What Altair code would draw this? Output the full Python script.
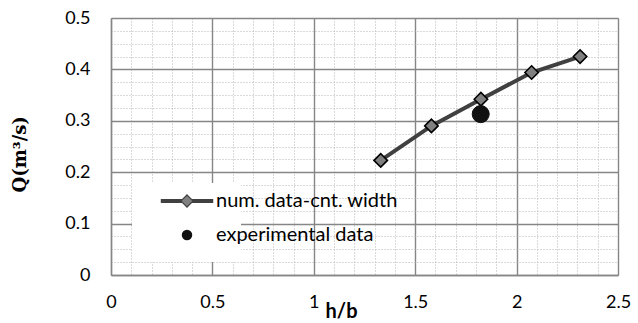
import altair as alt
import pandas as pd

num_label = "num. data-cnt. width"
exp_label = "experimental data"

x_num = [1.33, 1.58, 1.824, 2.074, 2.313]
y_num = [0.223, 0.290, 0.342, 0.394, 0.425]
x_exp = [1.823]
y_exp = [0.313]

major_x = [0, 0.5, 1, 1.5, 2, 2.5]
major_y = [0, 0.1, 0.2, 0.3, 0.4, 0.5]
minor_x = [round(i * 0.1, 2) for i in range(26)]
minor_y = [round(i * 0.025, 3) for i in range(21)]

df_num = pd.DataFrame({"x": x_num, "y": y_num, "series": num_label})
df_exp = pd.DataFrame({"x": x_exp, "y": y_exp, "series": exp_label})

GRID_MAJOR = "#868686"
GRID_MINOR = "#b4b4b4"
FONT = "Lato"
BLANK = "\u2003" * 9
LINE_SYMBOL = "M-5,0H5M0,-0.78L0.78,0L0,0.78L-0.78,0Z"

xscale = alt.Scale(domain=[0, 2.5], nice=False, zero=False)
yscale = alt.Scale(domain=[0, 0.5], nice=False, zero=False)

minor_x_axis = alt.Axis(orient="bottom", values=minor_x, grid=True, gridDash=[1, 2],
                        gridColor=GRID_MINOR, gridWidth=1, labels=False, ticks=False,
                        domain=False, title=None)
minor_y_axis = alt.Axis(orient="left", values=minor_y, grid=True, gridDash=[1, 2],
                        gridColor=GRID_MINOR, gridWidth=1, labels=False, ticks=False,
                        domain=False, title=None)

major_x_axis = alt.Axis(orient="bottom", values=major_x, format="~g", grid=True,
                        gridColor=GRID_MAJOR, gridWidth=1.4, domainColor=GRID_MAJOR,
                        domainWidth=1.4, ticks=False, labelFont=FONT, labelFontSize=18,
                        labelColor="#000000", labelPadding=18, labelFlush=False,
                        title="h/b", titleFont=FONT, titleFontSize=20,
                        titleFontWeight="bold", titleColor="#000000", titleX=230,
                        titleY=26, titleAlign="center", titleBaseline="top")
major_y_axis = alt.Axis(orient="left", values=major_y, format="~g", grid=True,
                        gridColor=GRID_MAJOR, gridWidth=1.4, domainColor=GRID_MAJOR,
                        domainWidth=1.4, ticks=False, labelFont=FONT, labelFontSize=18,
                        labelColor="#000000", labelPadding=21, labelFlush=False,
                        title="Q(m³/s)", titleFont="DejaVu Serif", titleFontSize=18,
                        titleFontWeight="bold", titleColor="#000000", titleX=-91,
                        titleY=174, titleAngle=270, titleAlign="left",
                        titleBaseline="middle")

legend_line = alt.Legend(orient="none", legendX=21, legendY=165, title=None,
                         symbolType=LINE_SYMBOL, symbolSize=110, symbolStrokeWidth=4,
                         symbolFillColor="transparent",
                         symbolOffset=37, labelOffset=36, labelFont=FONT,
                         labelFontSize=20, labelLimit=400, labelExpr="'" + BLANK + "'",
                         fillColor="white", padding=8, rowPadding=14)
legend_pts = alt.Legend(orient="none", legendX=21, legendY=165, title=None,
                        symbolSize=110, symbolStrokeColor="black", symbolStrokeWidth=1.5,
                        symbolOffset=37, labelOffset=19, labelFont=FONT,
                        labelFontSize=20, labelLimit=400, labelColor="#000000",
                        padding=8, rowPadding=14)

shape_scale = alt.Scale(domain=[num_label, exp_label], range=["diamond", "circle"])
fill_scale = alt.Scale(domain=[num_label, exp_label], range=["#808080", "#111111"])

line = alt.Chart(df_num).mark_line(strokeWidth=4).encode(
    x=alt.X("x:Q", scale=xscale, axis=minor_x_axis),
    y=alt.Y("y:Q", scale=yscale, axis=minor_y_axis),
    stroke=alt.Stroke("series:N",
                      scale=alt.Scale(domain=[num_label, exp_label + " "],
                                      range=["#404040", "transparent"]),
                      legend=legend_line),
)

diamonds = alt.Chart(df_num).mark_point(filled=False, size=180, stroke="black",
                                        strokeWidth=1.6, opacity=1).encode(
    x=alt.X("x:Q", scale=xscale, axis=major_x_axis),
    y=alt.Y("y:Q", scale=yscale, axis=major_y_axis),
    shape=alt.Shape("series:N", scale=shape_scale, legend=legend_pts),
    fill=alt.Fill("series:N", scale=fill_scale, legend=legend_pts),
)

circles = alt.Chart(df_exp).mark_point(filled=False, size=290, stroke="#111111",
                                       strokeWidth=1, opacity=1).encode(
    x=alt.X("x:Q", scale=xscale, axis=None),
    y=alt.Y("y:Q", scale=yscale, axis=None),
    shape=alt.Shape("series:N", scale=shape_scale, legend=legend_pts),
    fill=alt.Fill("series:N", scale=fill_scale, legend=legend_pts),
)

chart = alt.layer(line, diamonds, circles).resolve_axis(
    x="independent", y="independent"
).properties(
    width=507, height=257,
    autosize=alt.AutoSizeParams(type="none"),
    padding={"left": 111, "top": 18, "right": 20, "bottom": 48},
).configure_view(stroke=None).configure_legend(
    symbolStrokeColor="black"
).configure(background="white")

chart.save("out.html", embed_options={"renderer": "svg", "actions": False})
